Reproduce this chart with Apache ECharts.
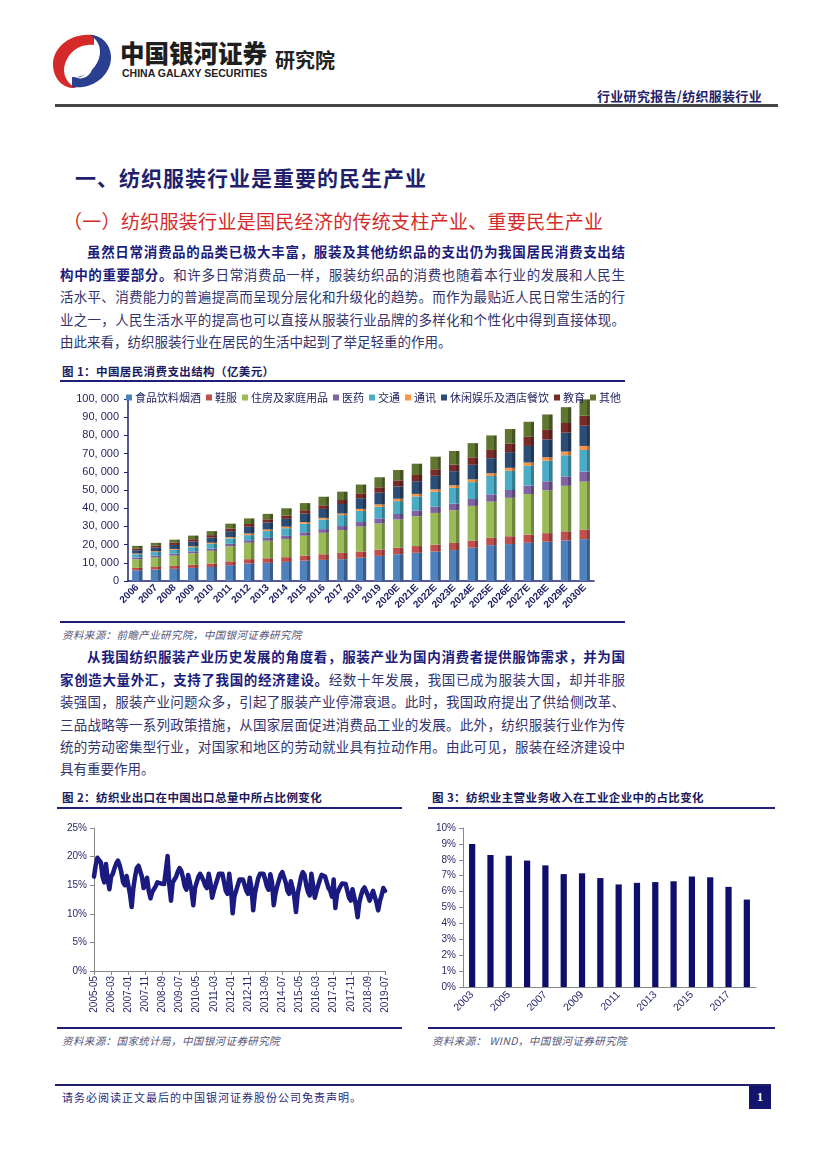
<!DOCTYPE html>
<html><head><meta charset="utf-8">
<script src="https://cdn.jsdelivr.net/npm/echarts@6/dist/echarts.min.js"></script>
<style>
html,body{margin:0;padding:0;background:#fff;}
#page{position:relative;width:827px;height:1169px;background:#fff;font-family:"Noto Sans CJK SC","Noto Sans",sans-serif;overflow:hidden;}
.abs{position:absolute;white-space:nowrap;}
.ln{position:absolute;font-size:13.5px;line-height:18px;color:#33336e;text-align:justify;text-align-last:justify;white-space:nowrap;}
.ln.last{text-align-last:left;}
.b{font-weight:700;color:#1c1c7c;}
.ftitle{position:absolute;font-size:11.5px;font-weight:700;color:#1a1a60;letter-spacing:0.4px;}
.src{position:absolute;font-size:10.5px;font-style:italic;color:#55557a;letter-spacing:0.4px;}
.rule{position:absolute;background:#1f1f7a;height:2px;}
</style></head>
<body><div id="page">
<!-- header -->
<svg class="abs" style="left:50px;top:32px" width="64" height="58" viewBox="0 0 64 58">
 <path d="M44 3 C20 0 2 16 3 34 C4 48 14 57 26 56 C14 50 11 38 17 27 C23 16 34 12 44 13 Z" fill="#d42a2a"/>
 <path d="M22 55 C44 58 62 42 61 24 C60 11 51 3 40 3 C50 9 53 20 47 31 C41 42 30 46 22 45 Z" fill="#2a3f8f"/>
 <path d="M40 16 C30 16 24 22 26 28 C28 34 38 30 36 40 C34 46 26 46 24 44 C30 50 42 44 42 36 C42 28 32 30 31 25 C30 20 36 17 40 16 Z" fill="#ffffff"/>
</svg>
<div class="abs" style="left:120px;top:35px;font-size:24.5px;font-weight:900;color:#1e1e1e;letter-spacing:0">中国银河证券</div>
<div class="abs" style="left:122px;top:67px;font-size:10.5px;font-weight:700;color:#222;font-family:'Liberation Sans',Arial,sans-serif;letter-spacing:0">CHINA GALAXY SECURITIES</div>
<div class="abs" style="left:275px;top:45px;font-size:20px;font-weight:700;color:#222">研究院</div>
<div class="abs" style="left:597px;top:86px;font-size:13px;font-weight:700;color:#1f1f6a;letter-spacing:0.3px">行业研究报告/纺织服装行业</div>
<div class="abs" style="left:55px;top:104px;width:723px;height:3px;background:#454545"></div>

<div class="abs" style="left:75px;top:162px;font-size:21px;font-weight:700;color:#1f1f6b;letter-spacing:1px">一、纺织服装行业是重要的民生产业</div>
<div class="abs" style="left:63px;top:207px;font-size:19px;color:#d42a2a;letter-spacing:0.3px">（一）纺织服装行业是国民经济的传统支柱产业、重要民生产业</div>

<div class="ln" style="left:87px;top:242px;width:538px"><span class="b">虽然日常消费品的品类已极大丰富，服装及其他纺织品的支出仍为我国居民消费支出结</span></div>
<div class="ln" style="left:60px;top:265px;width:565px"><span class="b">构中的重要部分。</span>和许多日常消费品一样，服装纺织品的消费也随着本行业的发展和人民生</div>
<div class="ln" style="left:60px;top:287px;width:565px">活水平、消费能力的普遍提高而呈现分层化和升级化的趋势。而作为最贴近人民日常生活的行</div>
<div class="ln" style="left:60px;top:310px;width:565px">业之一，人民生活水平的提高也可以直接从服装行业品牌的多样化和个性化中得到直接体现。</div>
<div class="ln last" style="left:60px;top:332px;width:565px">由此来看，纺织服装行业在居民的生活中起到了举足轻重的作用。</div>

<div class="ftitle" style="left:62px;top:363px">图 1：中国居民消费支出结构（亿美元）</div>
<div class="rule" style="left:60px;top:380px;width:565px"></div>
<div id="c1" class="abs" style="left:55px;top:382px;width:580px;height:238px"></div>
<div class="rule" style="left:60px;top:621px;width:565px"></div>
<div class="src" style="left:62px;top:627px">资料来源：前瞻产业研究院，中国银河证券研究院</div>

<div class="ln" style="left:87px;top:647px;width:538px"><span class="b">从我国纺织服装产业历史发展的角度看，服装产业为国内消费者提供服饰需求，并为国</span></div>
<div class="ln" style="left:60px;top:670px;width:565px"><span class="b">家创造大量外汇，支持了我国的经济建设。</span>经数十年发展，我国已成为服装大国，却并非服</div>
<div class="ln" style="left:60px;top:692px;width:565px">装强国，服装产业问题众多，引起了服装产业停滞衰退。此时，我国政府提出了供给侧改革、</div>
<div class="ln" style="left:60px;top:715px;width:565px">三品战略等一系列政策措施，从国家层面促进消费品工业的发展。此外，纺织服装行业作为传</div>
<div class="ln" style="left:60px;top:737px;width:565px">统的劳动密集型行业，对国家和地区的劳动就业具有拉动作用。由此可见，服装在经济建设中</div>
<div class="ln last" style="left:60px;top:759px;width:565px">具有重要作用。</div>

<div class="ftitle" style="left:62px;top:789px">图 2：纺织业出口在中国出口总量中所占比例变化</div>
<div class="rule" style="left:57px;top:807px;width:345px"></div>
<div id="c2" class="abs" style="left:57px;top:812px;width:345px;height:212px"></div>
<div class="rule" style="left:57px;top:1027px;width:345px"></div>
<div class="src" style="left:62px;top:1033px">资料来源：国家统计局，中国银河证券研究院</div>

<div class="ftitle" style="left:432px;top:789px">图 3：纺织业主营业务收入在工业企业中的占比变化</div>
<div class="rule" style="left:428px;top:807px;width:347px"></div>
<div id="c3" class="abs" style="left:428px;top:812px;width:350px;height:212px"></div>
<div class="rule" style="left:428px;top:1027px;width:347px"></div>
<div class="src" style="left:432px;top:1033px">资料来源： WIND，中国银河证券研究院</div>

<div class="abs" style="left:55px;top:1084px;width:716px;height:2px;background:#1f1f6a"></div>
<div class="abs" style="left:62px;top:1089px;font-size:11px;color:#2a2a7a;letter-spacing:1px">请务必阅读正文最后的中国银河证券股份公司免责声明。</div>
<div class="abs" style="left:749px;top:1086px;width:22px;height:23px;background:#14146e;color:#fff;font-size:12px;font-weight:700;text-align:center;line-height:23px;font-family:'Liberation Serif',serif">1</div>
</div>

<script>
// ---------- Figure 1 data (亿美元) ----------
const years1 = ['2006','2007','2008','2009','2010','2011','2012','2013','2014','2015','2016','2017','2018','2019','2020E','2021E','2022E','2023E','2024E','2025E','2026E','2027E','2028E','2029E','2030E'];
const seriesNames1 = ['食品饮料烟酒','鞋服','住房及家庭用品','医药','交通','通讯','休闲娱乐及酒店餐饮','教育','其他'];
const food      = [5900,6300,6700,7200,7700,8700,9600,10000,10500,11200,11600,12000,12800,13800,14700,15500,16200,17000,18300,19700,20300,21000,21600,22300,23000];
const clothing  = [1300,1400,1600,1700,1900,2100,2400,2500,2600,2800,3100,3400,3400,3500,3600,3700,3800,3900,3950,4000,4300,4500,4700,5000,5300];
const housing   = [4800,5200,5600,6300,7000,8300,9000,9600,10000,10900,11800,12600,13700,14300,15500,16400,17400,18000,19000,19900,21100,22300,23600,25000,26300];
const medical   = [900,1000,1100,1100,1200,1300,1400,1600,1700,1900,2000,2200,2500,2800,3000,3200,3400,3600,3800,4000,4300,4600,4900,5200,5500];
const transport = [1800,2000,2100,2300,2600,3000,2800,3800,4200,4700,5300,6000,6100,6400,7100,7700,8200,8700,9300,10100,10500,10900,11300,11600,11900];
const telecom   = [400,450,500,550,600,700,900,800,850,900,900,900,1100,1300,1300,1350,1400,1450,1500,1500,1700,1800,1900,2000,2200];
const leisure   = [1800,2000,2200,2500,2800,3300,3700,3900,4300,4600,4900,5200,5900,6400,6800,7000,7400,7700,8000,8300,8600,9100,9800,10400,11100];
const education = [1000,1100,1200,1300,1400,1500,1500,1700,1800,1900,2000,2200,2700,3000,3300,3400,3600,3700,4100,4500,4800,5000,5200,5300,5500];
const others    = [1400,1500,1700,2000,2200,2600,3100,3000,4000,3900,4700,4600,4800,5500,5700,6200,6900,7400,7800,8000,7900,8300,8500,8700,9000];
const yTicks1 = [0,10000,20000,30000,40000,50000,60000,70000,80000,90000,100000];

// ---------- Figure 2 data (%) ----------
const months2 = [];
(function(){let y=2005,m=5;while(y<2019||(y===2019&&m<=7)){months2.push(y+'-'+(m<10?'0'+m:m));m++;if(m>12){m=1;y++;}}})();
const exportShare = [
 16.5,18.5,19.8,20.0,19.0,16.5,15.5,18.7,
 16.0,14.3,16.5,17.0,18.0,18.8,19.3,18.5,17.2,15.5,15.0,16.6,
 16.5,13.5,11.2,14.5,16.5,18.0,18.4,18.2,16.5,14.5,15.0,16.3,
 14.0,12.7,13.8,14.0,14.8,15.5,15.8,15.3,15.0,15.2,15.5,20.1,
 15.0,12.3,15.5,16.0,16.5,17.4,18.0,17.5,16.3,14.8,14.2,16.8,
 15.5,14.0,11.5,14.5,15.5,16.5,17.0,16.8,15.8,14.9,14.5,17.0,
 15.5,12.8,14.0,15.0,16.0,17.0,17.3,17.0,15.5,14.0,13.5,17.0,
 14.5,10.1,13.0,14.0,15.0,16.0,16.3,16.0,15.0,14.0,13.5,16.3,
 14.5,10.6,13.5,15.0,16.3,17.0,17.3,17.0,16.0,14.8,14.2,16.9,
 15.5,11.5,13.5,14.8,15.8,16.8,17.3,17.0,15.5,14.0,13.5,15.7,
 14.5,13.0,10.3,13.5,15.0,16.5,17.3,16.8,15.0,13.8,13.2,17.0,
 15.0,12.8,14.0,15.0,16.0,16.8,17.0,16.5,15.5,14.5,14.0,13.0,
 16.0,11.0,13.5,14.2,14.8,15.3,15.6,15.2,14.0,12.8,12.3,14.3,
 13.0,11.5,9.4,12.0,13.2,14.2,14.6,14.3,13.2,12.3,12.0,14.0,
 13.0,12.0,10.6,12.2,13.2,14.5,14.0
];

// ---------- Figure 3 data (%) ----------
const years3 = ['2003','2004','2005','2006','2007','2008','2009','2010','2011','2012','2013','2014','2015','2016','2017','2018'];
const revenueShare = [9.0,8.3,8.25,7.95,7.65,7.1,7.15,6.85,6.45,6.55,6.6,6.65,6.95,6.9,6.3,5.5];

// ---------- styles ----------
const colors1 = ['#4F81BD','#C0504D','#9BBB59','#8064A2','#4BACC6','#F79646','#2C4D75','#772C2A','#5F7530'];
function shade(hex, f){const n=parseInt(hex.slice(1),16);let r=(n>>16)&255,g=(n>>8)&255,b=n&255;r=Math.round(r*f);g=Math.round(g*f);b=Math.round(b*f);return 'rgb('+r+','+g+','+b+')';}
function barGrad(c){return {type:'linear',x:0,y:0,x2:1,y2:0,colorStops:[{offset:0,color:c},{offset:0.7,color:c},{offset:0.7,color:shade(c,0.72)},{offset:1,color:shade(c,0.72)}]};}
const seriesData1 = [food,clothing,housing,medical,transport,telecom,leisure,education,others];
const cjk = '"Noto Sans CJK SC", sans-serif';
const latin = '"Liberation Sans",Arial,sans-serif';

const c1 = echarts.init(document.getElementById('c1'), null, {renderer:'canvas'});
c1.setOption({
  animation:false,
  legend:{left:66,top:5,itemWidth:6,itemHeight:6,itemGap:5,icon:'rect',
    textStyle:{fontSize:11,color:'#1f1f5f',fontFamily:cjk,padding:[0,0,0,-2]},
    data:seriesNames1.map((n,i)=>({name:n,itemStyle:{color:colors1[i]}}))},
  grid:{left:73,width:466,top:17,height:182},
  xAxis:{type:'category',data:years1,
    axisLine:{lineStyle:{color:'#1f1f7a',width:1.5}},
    axisTick:{lineStyle:{color:'#1f1f7a'},length:4},
    axisLabel:{interval:0,rotate:45,fontSize:10,fontWeight:'bold',color:'#1f1f66',margin:5,fontFamily:latin}},
  yAxis:{type:'value',min:yTicks1[0],max:yTicks1[yTicks1.length-1],interval:10000,splitLine:{show:false},
    axisLine:{show:true,lineStyle:{color:'#1f1f7a',width:1.5}},
    axisTick:{show:true,length:4,lineStyle:{color:'#1f1f7a'}},
    axisLabel:{fontSize:11,color:'#1f1f5f',margin:9,fontFamily:latin,
      formatter:v=>String(v).replace(/\B(?=(\d{3})+(?!\d))/g,', ')}},
  series:seriesNames1.map((n,i)=>({name:n,type:'bar',stack:'all',barWidth:'56%',data:seriesData1[i],
    itemStyle:{color:barGrad(colors1[i])}}))
});

const c2 = echarts.init(document.getElementById('c2'));
c2.setOption({
  animation:false,
  grid:{left:37,width:291,top:16,height:143},
  xAxis:{type:'category',data:months2,boundaryGap:false,
    axisLine:{lineStyle:{color:'#888',width:1}},
    axisTick:{interval:9,length:4,lineStyle:{color:'#888'}},
    axisLabel:{interval:9,rotate:90,fontSize:10,color:'#2a2a6a',margin:5,fontFamily:latin}},
  yAxis:{type:'value',min:0,max:25,interval:5,splitLine:{show:false},
    axisLine:{show:true,lineStyle:{color:'#888'}},
    axisTick:{show:true,length:4,lineStyle:{color:'#888'}},
    axisLabel:{fontSize:10,color:'#2a2a6a',margin:7,formatter:'{value}%',fontFamily:latin}},
  series:[{type:'line',data:exportShare,showSymbol:false,smooth:false,lineStyle:{color:'#1a1a80',width:4.5,join:'round',cap:'round'}}]
});

const c3 = echarts.init(document.getElementById('c3'));
c3.setOption({
  animation:false,
  grid:{left:35,width:293,top:16,height:159},
  xAxis:{type:'category',data:years3,
    axisLine:{lineStyle:{color:'#888'}},
    axisTick:{interval:1,length:4,lineStyle:{color:'#888'}},
    axisLabel:{interval:1,rotate:45,fontSize:10.5,color:'#2a2a6a',margin:6,fontFamily:latin}},
  yAxis:{type:'value',min:0,max:10,interval:1,splitLine:{show:false},
    axisLine:{show:true,lineStyle:{color:'#888'}},
    axisTick:{show:true,length:4,lineStyle:{color:'#888'}},
    axisLabel:{fontSize:10,color:'#2a2a6a',margin:7,formatter:'{value}%',fontFamily:latin}},
  series:[{type:'bar',data:revenueShare,barWidth:'34%',itemStyle:{color:'#0f0f6b'}}]
});
</script>
</body></html>
